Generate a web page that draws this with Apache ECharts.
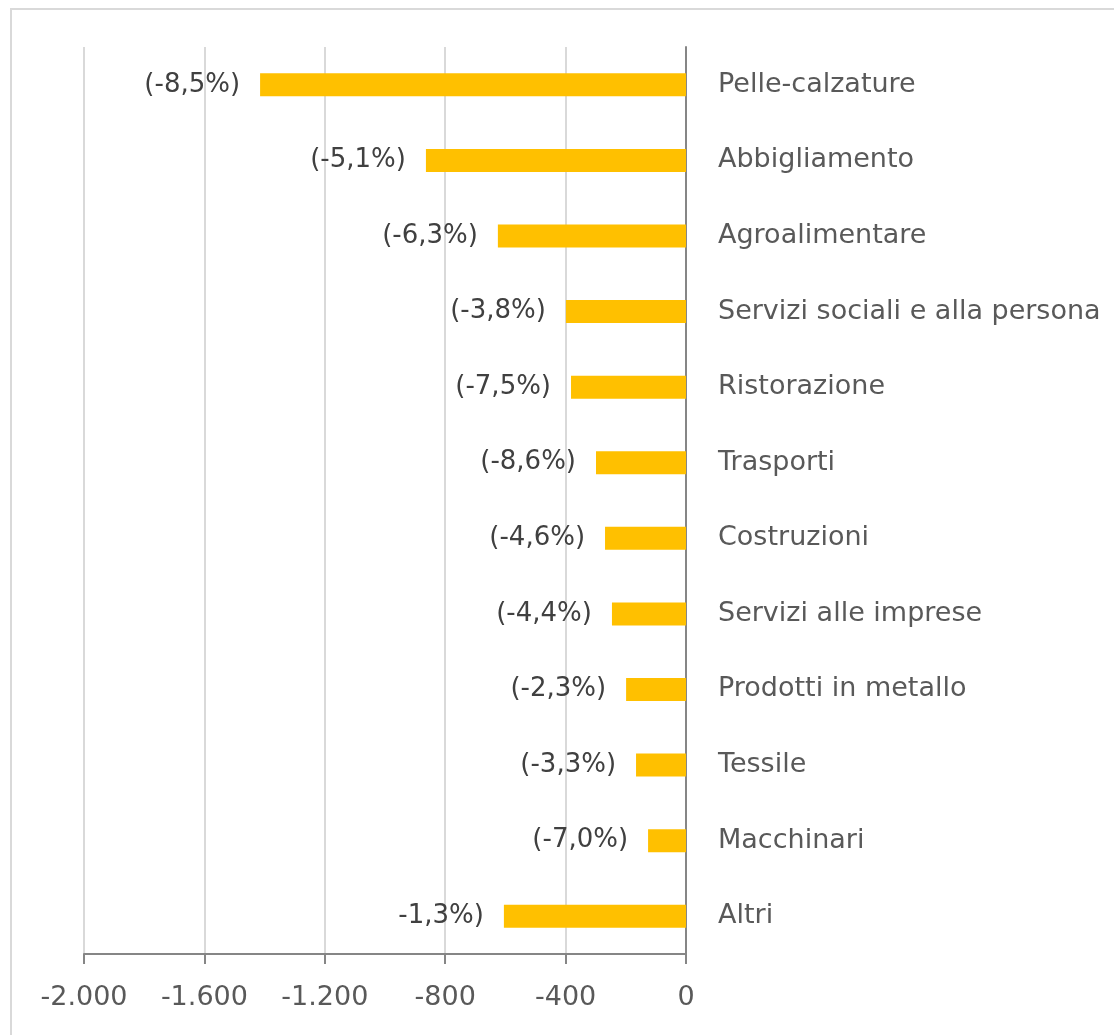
<!DOCTYPE html>
<html>
<head>
<meta charset="utf-8">
<title>Variazione per settore</title>
<script src="https://cdn.jsdelivr.net/npm/echarts@6/dist/echarts.min.js"></script>
<style>
	html, body { margin: 0; padding: 0; background: #fff; }
	#main { width: 1114px; height: 1035px; }
</style>
</head>
<body>
<div id="main"></div>
<script>
var settori = ['Pelle-calzature', 'Abbigliamento', 'Agroalimentare', 'Servizi sociali e alla persona',
	'Ristorazione', 'Trasporti', 'Costruzioni', 'Servizi alle imprese', 'Prodotti in metallo',
	'Tessile', 'Macchinari', 'Altri'];
var valori = [-1415, -864, -625, -399, -382, -299, -269, -246, -199, -166, -126, -605];
var percentuali = ['(-8,5%)', '(-5,1%)', '(-6,3%)', '(-3,8%)', '(-7,5%)', '(-8,6%)', '(-4,6%)',
	'(-4,4%)', '(-2,3%)', '(-3,3%)', '(-7,0%)', '-1,3%)'];

var font = '"DejaVu Sans", Verdana, Tahoma, sans-serif';

var myChart = echarts.init(document.getElementById('main'));

myChart.setOption({
	animation: false,
	textStyle: { fontFamily: font },
	graphic: [{
		type: 'rect',
		shape: { x: 11, y: 9, width: 1200, height: 1200 },
		style: { fill: 'none', stroke: '#d9d9d9', lineWidth: 2 }
	}],
	grid: {
		left: 84,
		right: 428,
		top: 47,
		bottom: 81,
		containLabel: false
	},
	xAxis: {
		type: 'value',
		min: -2000,
		max: 0,
		interval: 400,
		axisLine: { show: true, onZero: false, lineStyle: { color: '#868686', width: 2 } },
		axisTick: { show: true, inside: false, length: 10, lineStyle: { color: '#868686', width: 2 } },
		splitLine: { show: true, lineStyle: { color: '#d9d9d9', width: 2 } },
		axisLabel: {
			color: '#595959',
			fontSize: 27,
			fontFamily: font,
			margin: 30,
			formatter: function (v) {
				var s = Math.abs(v).toString().replace(/\B(?=(\d{3})+(?!\d))/g, '.');
				return (v < 0 ? '-' : '') + s;
			}
		}
	},
	yAxis: {
		type: 'category',
		data: settori,
		inverse: true,
		position: 'right',
		axisLine: { show: true, onZero: false, lineStyle: { color: '#868686', width: 2 } },
		axisTick: { show: false },
		splitLine: { show: false },
		axisLabel: {
			color: '#595959',
			fontSize: 27,
			fontFamily: font,
			margin: 32
		}
	},
	series: [{
		type: 'bar',
		data: valori,
		barWidth: 23,
		itemStyle: { color: '#ffc000' },
		label: {
			show: true,
			position: 'left',
			distance: 20,
			color: '#404040',
			fontSize: 26,
			fontFamily: font,
			formatter: function (p) { return percentuali[p.dataIndex]; }
		}
	}]
});
</script>
</body>
</html>
